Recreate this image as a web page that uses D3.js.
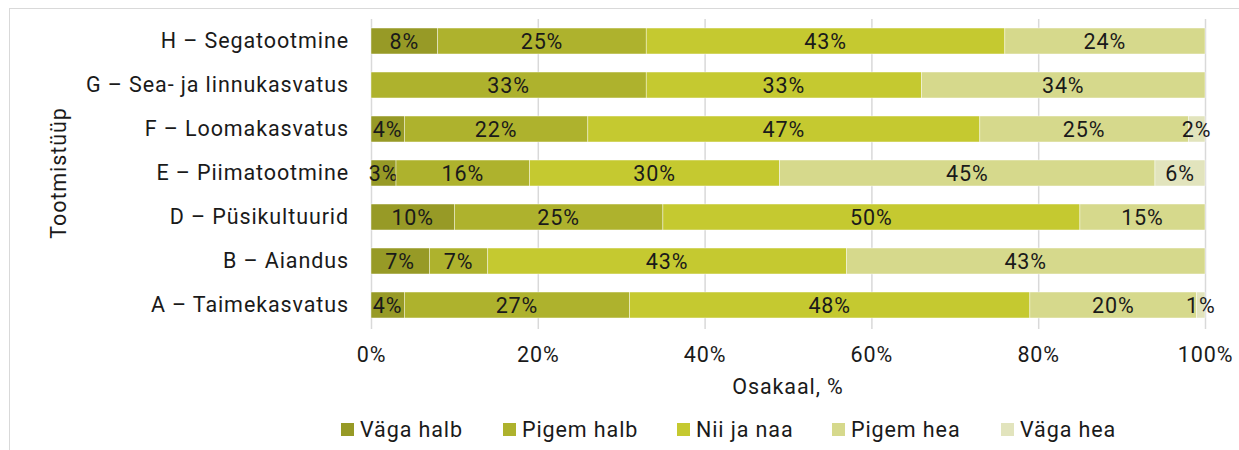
<!DOCTYPE html>
<html>
<head>
<meta charset="utf-8">
<script src="https://cdn.jsdelivr.net/npm/d3@7"></script>
<style>
  body { margin: 0; background: #fff; }
  svg { display: block; font-family: Roboto, "Noto Sans", sans-serif; }
  text { letter-spacing: 0.9px; }
</style>
</head>
<body>
<svg id="chart" width="1239" height="450"></svg>
<script>
// categories, top to bottom
var categories = ["H – Segatootmine", "G – Sea- ja linnukasvatus", "F – Loomakasvatus",
  "E – Piimatootmine", "D – Püsikultuurid", "B – Aiandus", "A – Taimekasvatus"];
var seriesNames = ["Väga halb", "Pigem halb", "Nii ja naa", "Pigem hea", "Väga hea"];
var vagaHalb  = [8, 0, 4, 3, 10, 7, 4];
var pigemHalb = [25, 33, 22, 16, 25, 7, 27];
var niiJaNaa  = [43, 33, 47, 30, 50, 43, 48];
var pigemHea  = [24, 34, 25, 45, 15, 43, 20];
var vagaHea   = [0, 0, 2, 6, 0, 0, 1];
var xTicks = [0, 20, 40, 60, 80, 100];
var colors = ["#979a26", "#aeb22d", "#c5c930", "#d6d98c", "#e2e4bd"];

var seriesValues = [vagaHalb, pigemHalb, niiJaNaa, pigemHea, vagaHea];
var table = categories.map(function (c, i) {
  var row = { cat: c };
  seriesNames.forEach(function (s, j) { row[s] = seriesValues[j][i]; });
  return row;
});

var svg = d3.select("#chart");
var margin = { top: 19, left: 371, right: 34 };
var width = 1239 - margin.left - margin.right;
var fs = 21.5;

// outer frame (only left/top edges visible in the picture)
svg.append("rect")
  .attr("x", 9.5).attr("y", 8.5)
  .attr("width", 1240).attr("height", 460)
  .attr("fill", "none").attr("stroke", "#d9d9d9");

var x = d3.scaleLinear().domain([0, 100]).range([0, width]);
var y = d3.scaleBand().domain(categories).range([0, 308])
  .paddingInner(0.41).paddingOuter(0.205);

var g = svg.append("g").attr("transform", "translate(" + margin.left + "," + margin.top + ")");

// gridlines
g.append("g").selectAll("line").data(xTicks).join("line")
  .attr("x1", function (d) { return x(d) + 0.5; })
  .attr("x2", function (d) { return x(d) + 0.5; })
  .attr("y1", 0).attr("y2", 310)
  .attr("stroke", "#d9d9d9").attr("stroke-width", 1.5);

var stack = d3.stack().keys(seriesNames)(table);

var layers = g.append("g").selectAll("g").data(stack).join("g")
  .attr("fill", function (d, i) { return colors[i]; });

layers.selectAll("rect").data(function (d) { return d; }).join("rect")
  .attr("x", function (d) { return x(d[0]); })
  .attr("y", function (d) { return y(d.data.cat); })
  .attr("width", function (d) { return x(d[1]) - x(d[0]); })
  .attr("height", y.bandwidth())
  .attr("stroke", "#fff").attr("stroke-width", 0.6)
  .attr("stroke-opacity", function (d) { return d[1] > d[0] ? 0.7 : 0; });

layers.selectAll("text").data(function (d) { return d.filter(function (v) { return v[1] > v[0]; }); })
  .join("text")
  .attr("x", function (d) { return (x(d[0]) + x(d[1])) / 2; })
  .attr("y", function (d) { return y(d.data.cat) + y.bandwidth() / 2; })
  .attr("dy", "0.35em")
  .attr("text-anchor", "middle")
  .attr("fill", "#1a1a1a")
  .attr("font-size", fs)
  .text(function (d) { return Math.round(d[1] - d[0]) + "%"; });

// y axis labels
var yAxis = g.append("g")
  .call(d3.axisLeft(y).tickSize(0).tickPadding(22));
yAxis.select(".domain").remove();
yAxis.selectAll("text").attr("font-size", fs).attr("fill", "#1a1a1a")
  .attr("font-family", "Roboto, sans-serif");

// x axis labels
var xAxis = g.append("g").attr("transform", "translate(0,310)")
  .call(d3.axisBottom(x).tickValues(xTicks).tickSize(0).tickPadding(18)
    .tickFormat(function (d) { return d + "%"; }));
xAxis.select(".domain").remove();
xAxis.selectAll("text").attr("font-size", fs).attr("fill", "#1a1a1a")
  .attr("font-family", "Roboto, sans-serif");

// axis titles
svg.append("text")
  .attr("x", margin.left + width / 2).attr("y", 394)
  .attr("text-anchor", "middle").attr("font-size", fs).attr("fill", "#1a1a1a")
  .text("Osakaal, %");
svg.append("text")
  .attr("transform", "translate(66,173) rotate(-90)")
  .attr("text-anchor", "middle").attr("font-size", fs).attr("fill", "#1a1a1a")
  .text("Tootmistüüp");

// legend
var legendX = [341, 503, 677, 832, 1001];
var legend = svg.append("g").selectAll("g").data(seriesNames).join("g")
  .attr("transform", function (d, i) { return "translate(" + legendX[i] + ",423)"; });
legend.append("rect").attr("width", 13).attr("height", 13)
  .attr("fill", function (d, i) { return colors[i]; });
legend.append("text").attr("x", 19).attr("y", 6.5).attr("dy", "0.35em")
  .attr("font-size", fs).attr("fill", "#1a1a1a")
  .text(function (d) { return d; });
</script>
</body>
</html>
